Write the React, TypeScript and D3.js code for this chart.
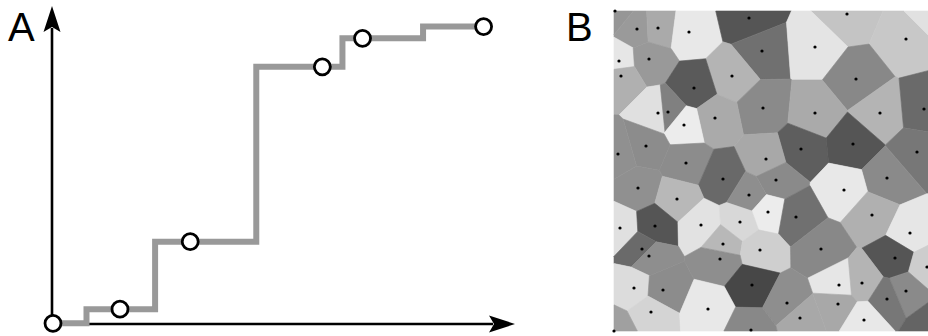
import React from "react";
import * as d3 from "d3";

// Panel A: empirical CDF points (x, cumulative share)
const cdfX = [0, 1.45, 2.97, 5.83, 6.7, 9.32];
const cdfY = [0, 0.047, 0.272, 0.855, 0.95, 0.989];

// Panel B: Voronoi seeds (x, y in a 320x320 field) and the shade of each cell (0 = black, 255 = white)
const seedX = [1, 23, 44, 75, 135, 233, 292, 5, 35, 148, 201, 7, 118, 80, 242, 44, 54, 149, 201, 266, 310, 101, 70, 32, 4, 187, 239, 303, 72, 152, 24, 109, 162, 273, 63, 135, 230, 154, 182, 258, 6, 41, 87, 126, 296, 28, 35, 109, 146, 207, 106, 281, 313, 20, 49, 138, 225, 248, 292, 273, 173, 224, 37, 94, 186, 250, 137, 0, 318, 318];
const seedY = [0, 18, 17, 21, 7, 3, 28, 50, 48, 40, 36, 65, 65, 77, 68, 102, 101, 97, 102, 102, 98, 107, 114, 135, 143, 138, 133, 141, 152, 148, 177, 168, 169, 167, 188, 184, 179, 201, 206, 204, 217, 215, 214, 211, 222, 238, 245, 233, 239, 238, 248, 247, 256, 277, 279, 274, 274, 272, 280, 288, 292, 293, 301, 298, 307, 309, 319, 320, 2, 316];
const shade = [150, 154, 170, 232, 85, 196, 200, 230, 153, 112, 228, 176, 180, 90, 136, 224, 128, 138, 170, 180, 106, 170, 236, 140, 144, 94, 85, 119, 140, 168, 144, 105, 138, 138, 184, 142, 232, 236, 112, 176, 224, 85, 226, 216, 230, 106, 142, 184, 207, 136, 142, 85, 205, 220, 140, 71, 230, 180, 138, 119, 142, 168, 212, 232, 168, 232, 136, 160, 225, 100];

const W = 928;
const H = 336;

const App: React.FC = () => {
  // ---- panel A scales
  const x = d3.scaleLinear().domain([0, 10]).range([53, 515]);
  const y = d3.scaleLinear().domain([0, 1]).range([323.3, 23.3]);
  const pts: [number, number][] = cdfX.map((v, i) => [x(v), y(cdfY[i])]);
  const step = d3.line().curve(d3.curveStep)(pts) || "";

  const ax0 = 52;
  const ay0 = 324;
  const xTip = 515;
  const yTip = 6;

  // ---- panel B
  const vx = d3.scaleLinear().domain([0, 320]).range([614, 934]);
  const vy = d3.scaleLinear().domain([0, 320]).range([11, 331]);
  const gray = d3.scaleLinear<string>().domain([0, 255]).range(["#000", "#fff"]);
  const seeds: [number, number][] = seedX.map((v, i) => [vx(v), vy(seedY[i])]);
  const voronoi = d3.Delaunay.from(seeds).voronoi([vx(0), vy(0), vx(320), vy(320)]);

  // notched arrowheads
  const upArrow = `M${ax0},${yTip}L${ax0 - 8.5},${yTip + 26}L${ax0},${yTip + 21}L${ax0 + 8.5},${yTip + 26}Z`;
  const rightArrow = `M${xTip},${ay0}L${xTip - 26},${ay0 - 8.5}L${xTip - 21},${ay0}L${xTip - 26},${ay0 + 8.5}Z`;

  return (
    <svg width={W} height={H} viewBox={`0 0 ${W} ${H}`}
      style={{ position: "absolute", left: 0, top: 0, background: "#fff" }}>
      {/* panel B */}
      <g>
        {seeds.map((_, i) => (
          <path key={i} d={voronoi.renderCell(i)} fill={gray(shade[i])}
            stroke={gray(shade[i])} strokeWidth={0.6} />
        ))}
        {seeds.map((p, i) => (
          <circle key={i} cx={p[0]} cy={p[1]} r={1.6} fill="#000" />
        ))}
      </g>

      {/* panel A axes */}
      <g stroke="#000" strokeWidth={2.6} fill="none">
        <line x1={ax0} y1={ay0 + 1} x2={ax0} y2={yTip + 22} />
        <line x1={ax0} y1={ay0} x2={xTip - 22} y2={ay0} />
      </g>
      <path d={upArrow} fill="#000" />
      <path d={rightArrow} fill="#000" />

      {/* step line and points */}
      <path d={step} fill="none" stroke="#999" strokeWidth={6} />
      {pts.map((p, i) => (
        <circle key={i} cx={p[0]} cy={p[1]} r={8} fill="#fff" stroke="#000" strokeWidth={2.8} />
      ))}

      {/* panel labels */}
      <g fontFamily="'Liberation Sans', Arial, sans-serif" fontSize={40} fill="#000">
        <text x={8} y={41}>A</text>
        <text x={566} y={41}>B</text>
      </g>
    </svg>
  );
};

export default App;
